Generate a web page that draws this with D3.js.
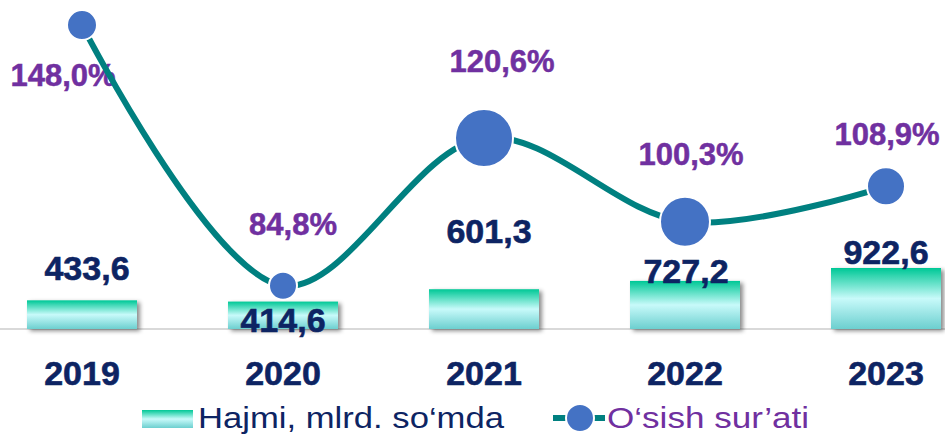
<!DOCTYPE html>
<html>
<head>
<meta charset="utf-8">
<script src="https://cdn.jsdelivr.net/npm/d3@7"></script>
<style>
  html, body { margin: 0; padding: 0; background: #ffffff; }
  svg { display: block; font-family: "Liberation Sans", Arial, sans-serif; }
</style>
</head>
<body>
<svg id="chart" width="945" height="435"></svg>
<script>
// ---- data ----
const years = ["2019", "2020", "2021", "2022", "2023"];
const volume = [433.6, 414.6, 601.3, 727.2, 922.6];          // Hajmi, mlrd. so‘mda
const growth = [148.0, 84.8, 120.6, 100.3, 108.9];           // O‘sish sur’ati, %
const volumeLabels = ["433,6", "414,6", "601,3", "727,2", "922,6"];
const growthLabels = ["148,0%", "84,8%", "120,6%", "100,3%", "108,9%"];
const legendLabels = ["Hajmi, mlrd. so‘mda", "O‘sish sur’ati"];

// ---- style / layout (not data) ----
const markerRadius = [15, 14, 29, 25, 19];
const volLabelDx = [5, 0, 5, 1, 0];
const volLabelDy = [-20, 30, -46, 2, -4];
const grLabelDx = [-19, 10, 18, 6, 1];
const grLabelDy = [61, -51, -66, -57, -41];
const navy = "#0d2463";
const purple = "#7030a0";
const teal = "#008080";
const markerBlue = "#4472c4";

const svg = d3.select("#chart");
const defs = svg.append("defs");

const grad = defs.append("linearGradient")
  .attr("id", "barGrad").attr("x1", 0).attr("y1", 0).attr("x2", 0).attr("y2", 1);
grad.append("stop").attr("offset", "0%").attr("stop-color", "#00c896");
grad.append("stop").attr("offset", "50%").attr("stop-color", "#c8fafa");
grad.append("stop").attr("offset", "100%").attr("stop-color", "#6ccfcf");

const shadow = defs.append("filter").attr("id", "shadow")
  .attr("x", "-10%").attr("y", "-20%").attr("width", "130%").attr("height", "150%");
shadow.append("feDropShadow").attr("dx", 3).attr("dy", 2)
  .attr("stdDeviation", 2).attr("flood-color", "#000").attr("flood-opacity", 0.45);

const x = d3.scalePoint().domain(years).range([82, 886]);
const barWidth = 110;
const baseY = 329;
const yBar = d3.scaleLinear().domain([0, 922.6]).range([baseY, 268]);
const yLine = d3.scaleLinear().domain([80, 150]).range([305.5, 16.8]);

// baseline
svg.append("line")
  .attr("x1", 0).attr("x2", 945).attr("y1", baseY).attr("y2", baseY)
  .attr("stroke", "#d9d9d9").attr("stroke-width", 2);

// bars
svg.append("g").selectAll("rect").data(volume).join("rect")
  .attr("x", (d, i) => x(years[i]) - barWidth / 2)
  .attr("y", d => yBar(d))
  .attr("width", barWidth)
  .attr("height", d => baseY - yBar(d))
  .attr("fill", "url(#barGrad)")
  .attr("filter", "url(#shadow)");

// year axis labels
svg.append("g").selectAll("text").data(years).join("text")
  .attr("x", d => x(d))
  .attr("y", 385)
  .attr("text-anchor", "middle")
  .attr("font-weight", "bold")
  .attr("font-size", 34)
  .attr("fill", navy)
  .attr("stroke", navy).attr("stroke-width", 0.6)
  .text(d => d);

// value labels
svg.append("g").selectAll("text").data(volume).join("text")
  .attr("x", (d, i) => x(years[i]) + volLabelDx[i])
  .attr("y", (d, i) => yBar(d) + volLabelDy[i])
  .attr("text-anchor", "middle")
  .attr("font-weight", "bold")
  .attr("font-size", 34)
  .attr("fill", navy)
  .attr("stroke", navy).attr("stroke-width", 0.6)
  .text((d, i) => volumeLabels[i]);

// growth labels
svg.append("g").selectAll("text").data(growth).join("text")
  .attr("x", (d, i) => x(years[i]) + grLabelDx[i])
  .attr("y", (d, i) => yLine(d) + grLabelDy[i])
  .attr("text-anchor", "middle")
  .attr("font-weight", "bold")
  .attr("font-size", 31)
  .attr("fill", purple)
  .attr("stroke", purple).attr("stroke-width", 0.5)
  .text((d, i) => growthLabels[i]);

// growth line
const pts = growth.map((d, i) => [x(years[i]), yLine(d)]);
svg.append("path")
  .attr("d", d3.line().curve(d3.curveCatmullRom.alpha(0.5))(pts))
  .attr("fill", "none")
  .attr("stroke", teal)
  .attr("stroke-width", 6);

// markers
svg.append("g").selectAll("circle").data(growth).join("circle")
  .attr("cx", (d, i) => x(years[i]))
  .attr("cy", d => yLine(d))
  .attr("r", (d, i) => markerRadius[i])
  .attr("fill", markerBlue)
  .attr("stroke", "#ffffff")
  .attr("stroke-width", 2);

// legend
const leg = svg.append("g");
leg.append("rect")
  .attr("x", 142).attr("y", 410).attr("width", 51).attr("height", 18)
  .attr("fill", "url(#barGrad)");
leg.append("text")
  .attr("x", 198).attr("y", 428)
  .attr("font-size", 30)
  .attr("fill", navy)
  .attr("textLength", 306).attr("lengthAdjust", "spacingAndGlyphs")
  .text(legendLabels[0]);
leg.append("line")
  .attr("x1", 553).attr("x2", 605).attr("y1", 418).attr("y2", 418)
  .attr("stroke", teal).attr("stroke-width", 6);
leg.append("circle")
  .attr("cx", 580).attr("cy", 418).attr("r", 14)
  .attr("fill", markerBlue).attr("stroke", "#fff").attr("stroke-width", 2);
leg.append("text")
  .attr("x", 607).attr("y", 428)
  .attr("font-size", 30)
  .attr("fill", purple)
  .attr("textLength", 202).attr("lengthAdjust", "spacingAndGlyphs")
  .text(legendLabels[1]);
</script>
</body>
</html>
